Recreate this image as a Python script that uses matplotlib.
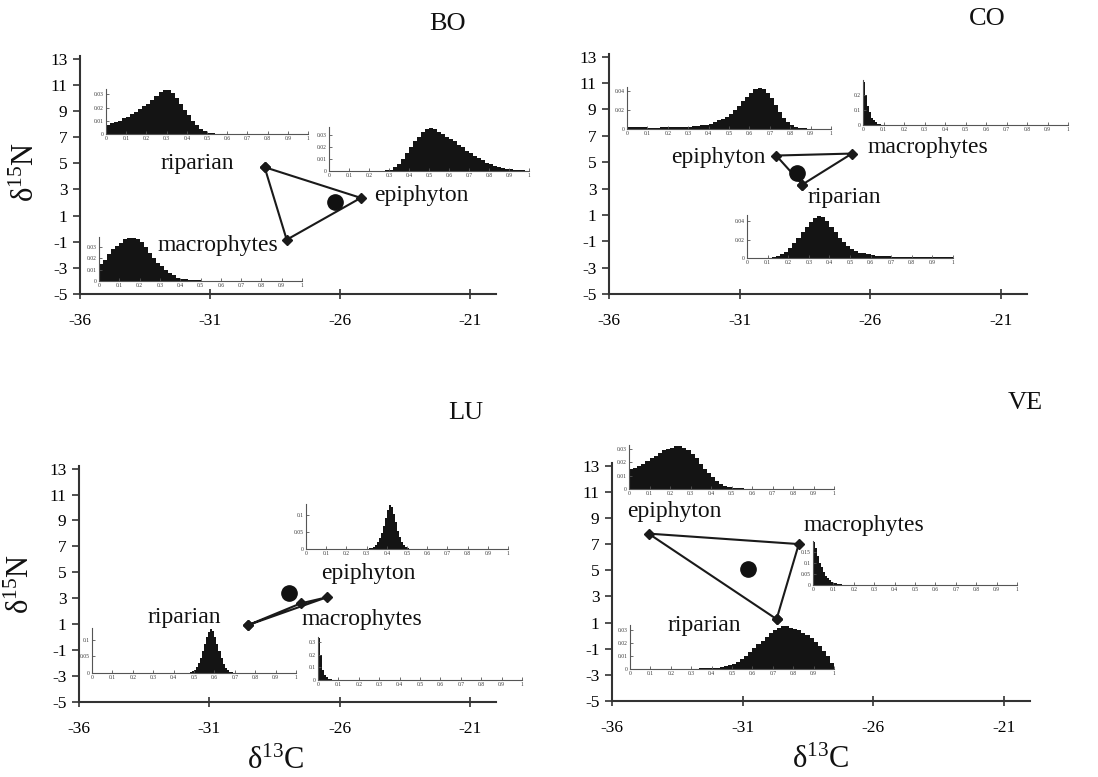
import numpy as np
import matplotlib
matplotlib.use("Agg")
import matplotlib.pyplot as plt

plt.rcParams['font.family'] = ['Liberation Serif', 'DejaVu Serif']
plt.rcParams['mathtext.fontset'] = 'custom'
plt.rcParams['mathtext.rm'] = 'Liberation Serif'
plt.rcParams['mathtext.it'] = 'Liberation Serif:italic'

W, H = 1098, 777

# ---------------- data ----------------
panels = ["BO", "CO", "LU", "VE"]
sources = ["riparian", "epiphyton", "macrophytes"]

# source mean positions (d13C, d15N) per panel, order = sources
src_d13C = {"BO": [-28.9, -25.2, -28.05], "CO": [-28.6, -29.6, -26.7],
            "LU": [-29.5, -26.5, -27.5], "VE": [-29.7, -34.6, -28.85]}
src_d15N = {"BO": [4.7, 2.35, -0.85], "CO": [3.3, 5.5, 5.65],
            "LU": [0.94, 3.07, 2.6], "VE": [1.26, 7.8, 7.0]}
cons_d13C = {"BO": -26.2, "CO": -28.8, "LU": -27.95, "VE": -30.8}
cons_d15N = {"BO": 2.0, "CO": 4.15, "LU": 3.4, "VE": 5.1}

x_ticks = [-36, -31, -26, -21]
y_ticks = [-5, -3, -1, 1, 3, 5, 7, 9, 11, 13]

# posterior histograms of source proportions (bin start, bin width, heights)
BO_RIP_START, BO_RIP_W = 0.0, 0.02
BO_RIP = [0.007, 0.008, 0.009, 0.010, 0.012, 0.013, 0.015, 0.017, 0.019, 0.021,
          0.023, 0.026, 0.029, 0.032, 0.033, 0.033, 0.031, 0.027, 0.023, 0.018,
          0.014, 0.010, 0.007, 0.004, 0.002, 0.001, 0.0005, 0.0002]
BO_EPI_START, BO_EPI_W = 0.20, 0.02
BO_EPI = [0.0002, 0.0003, 0.0003, 0.0004, 0.0005, 0.001, 0.003, 0.006, 0.010, 0.015,
          0.020, 0.025, 0.029, 0.033, 0.035, 0.036, 0.035, 0.033, 0.031, 0.029,
          0.027, 0.025, 0.022, 0.020, 0.017, 0.015, 0.013, 0.011, 0.009, 0.007,
          0.006, 0.004, 0.003, 0.0025, 0.002, 0.0015, 0.001, 0.0007, 0.0005, 0.0003]
BO_MAC_START, BO_MAC_W = 0.0, 0.02
BO_MAC = [0.015, 0.019, 0.024, 0.028, 0.031, 0.034, 0.037, 0.038, 0.038, 0.037,
          0.035, 0.030, 0.025, 0.020, 0.016, 0.013, 0.010, 0.007, 0.005, 0.003,
          0.002, 0.0015, 0.001, 0.0008, 0.0005, 0.0003, 0.0002]

CO_EPI_START, CO_EPI_W = 0.0, 0.02
CO_EPI = [0.002, 0.002, 0.0018, 0.0017, 0.0016, 0.0015, 0.0015, 0.0015, 0.0016, 0.0016,
          0.0017, 0.0018, 0.0019, 0.002, 0.0022, 0.0025, 0.003, 0.0035, 0.004, 0.0045,
          0.005, 0.007, 0.009, 0.011, 0.013, 0.016, 0.020, 0.024, 0.029, 0.034,
          0.038, 0.042, 0.043, 0.042, 0.038, 0.032, 0.025, 0.018, 0.012, 0.007,
          0.004, 0.002, 0.001, 0.0007, 0.0005, 0.0004, 0.0003]
CO_MAC_START, CO_MAC_W = 0.0, 0.01
CO_MAC = [0.29, 0.20, 0.13, 0.085, 0.05, 0.033, 0.018, 0.01, 0.005, 0.003, 0.001, 0.0005]
CO_RIP_START, CO_RIP_W = 0.10, 0.02
CO_RIP = [0.0005, 0.001, 0.002, 0.004, 0.007, 0.011, 0.016, 0.022, 0.028, 0.034,
          0.039, 0.044, 0.046, 0.045, 0.040, 0.034, 0.028, 0.022, 0.017, 0.013,
          0.010, 0.008, 0.006, 0.005, 0.004, 0.003, 0.0027, 0.0024, 0.002, 0.0018,
          0.0016, 0.0015, 0.0014, 0.0013, 0.0012, 0.0011, 0.001, 0.001, 0.001, 0.0009,
          0.0009, 0.0008, 0.0008, 0.0007, 0.0006]

LU_EPI_START, LU_EPI_W = 0.30, 0.01
LU_EPI = [0.001, 0.002, 0.003, 0.006, 0.011, 0.02, 0.032, 0.048, 0.068, 0.092,
          0.115, 0.128, 0.122, 0.103, 0.078, 0.054, 0.034, 0.02, 0.011, 0.005,
          0.002, 0.001]
LU_RIP_START, LU_RIP_W = 0.47, 0.01
LU_RIP = [0.001, 0.002, 0.005, 0.01, 0.018, 0.03, 0.046, 0.066, 0.088, 0.108,
          0.124, 0.132, 0.126, 0.11, 0.088, 0.065, 0.044, 0.027, 0.015, 0.008,
          0.004, 0.002, 0.001]
LU_MAC_START, LU_MAC_W = 0.0, 0.01
LU_MAC = [0.33, 0.2, 0.08, 0.04, 0.02, 0.01, 0.006, 0.003, 0.002, 0.001, 0.0005]

VE_EPI_START, VE_EPI_W = 0.0, 0.02
VE_EPI = [0.015, 0.016, 0.017, 0.019, 0.021, 0.023, 0.025, 0.027, 0.029, 0.030,
          0.031, 0.032, 0.032, 0.031, 0.029, 0.026, 0.023, 0.019, 0.015, 0.012,
          0.009, 0.006, 0.004, 0.0025, 0.0015, 0.001, 0.0006, 0.0004, 0.0003, 0.0002]
VE_MAC_START, VE_MAC_W = 0.0, 0.01
VE_MAC = [0.195, 0.17, 0.13, 0.1, 0.08, 0.057, 0.042, 0.03, 0.021, 0.015,
          0.01, 0.007, 0.005, 0.003, 0.002, 0.0015, 0.001, 0.001, 0.0008, 0.0005]
VE_RIP_START, VE_RIP_W = 0.30, 0.02
VE_RIP = [0.0002, 0.0003, 0.0004, 0.0005, 0.0006, 0.0008, 0.001, 0.0015, 0.002, 0.003,
          0.004, 0.0055, 0.0075, 0.01, 0.013, 0.016, 0.019, 0.022, 0.025, 0.028,
          0.030, 0.032, 0.033, 0.033, 0.032, 0.031, 0.030, 0.028, 0.026, 0.024,
          0.021, 0.018, 0.014, 0.010, 0.005]

hist_yticks = {
    "BO_RIP": [0, 0.01, 0.02, 0.03], "BO_EPI": [0, 0.01, 0.02, 0.03], "BO_MAC": [0, 0.01, 0.02, 0.03],
    "CO_EPI": [0, 0.02, 0.04], "CO_MAC": [0, 0.1, 0.2], "CO_RIP": [0, 0.02, 0.04],
    "LU_EPI": [0, 0.05, 0.1], "LU_RIP": [0, 0.05, 0.1], "LU_MAC": [0, 0.1, 0.2, 0.3],
    "VE_EPI": [0, 0.01, 0.02, 0.03], "VE_MAC": [0, 0.05, 0.1, 0.15], "VE_RIP": [0, 0.01, 0.02, 0.03],
}
hist_data = {
    "BO_RIP": (BO_RIP_START, BO_RIP_W, BO_RIP), "BO_EPI": (BO_EPI_START, BO_EPI_W, BO_EPI),
    "BO_MAC": (BO_MAC_START, BO_MAC_W, BO_MAC), "CO_EPI": (CO_EPI_START, CO_EPI_W, CO_EPI),
    "CO_MAC": (CO_MAC_START, CO_MAC_W, CO_MAC), "CO_RIP": (CO_RIP_START, CO_RIP_W, CO_RIP),
    "LU_EPI": (LU_EPI_START, LU_EPI_W, LU_EPI), "LU_RIP": (LU_RIP_START, LU_RIP_W, LU_RIP),
    "LU_MAC": (LU_MAC_START, LU_MAC_W, LU_MAC), "VE_EPI": (VE_EPI_START, VE_EPI_W, VE_EPI),
    "VE_MAC": (VE_MAC_START, VE_MAC_W, VE_MAC), "VE_RIP": (VE_RIP_START, VE_RIP_W, VE_RIP),
}

# ---------------- layout (pixels) ----------------
main_box = {"BO": (80, 56, 496, 294), "CO": (609, 54, 1027, 294),
            "LU": (79, 466, 496, 702), "VE": (612, 463, 1030, 701)}
# inset boxes: (left, top, right, bottom) pixels, ylim top
inset_box = {
    "BO_RIP": ((106, 89, 308, 134), 0.034), "BO_EPI": ((329, 127, 529, 171), 0.037),
    "BO_MAC": ((99, 237, 302, 281), 0.039),
    "CO_EPI": ((627, 87, 831, 129), 0.044), "CO_MAC": ((863, 80, 1068, 125), 0.30),
    "CO_RIP": ((747, 215, 953, 258), 0.047),
    "LU_EPI": ((306, 504, 508, 549), 0.132), "LU_RIP": ((92, 628, 296, 673), 0.136),
    "LU_MAC": ((318, 637, 522, 680), 0.34),
    "VE_EPI": ((629, 445, 834, 489), 0.033), "VE_MAC": ((813, 541, 1017, 585), 0.20),
    "VE_RIP": ((630, 625, 834, 669), 0.034),
}
titles_pos = {"BO": (448, 24), "CO": (987, 19), "LU": (466, 413), "VE": (1025, 403)}
# label positions: (x px, y px, ha)
label_pos = {
    "BO": {"riparian": (160, 163, "left"), "epiphyton": (374, 196, "left"), "macrophytes": (157, 245, "left")},
    "CO": {"riparian": (807, 198, "left"), "epiphyton": (765, 157, "right"), "macrophytes": (867, 148, "left")},
    "LU": {"riparian": (147, 617, "left"), "epiphyton": (321, 573, "left"), "macrophytes": (302, 620, "left")},
    "VE": {"riparian": (667, 626, "left"), "epiphyton": (627, 511, "left"), "macrophytes": (803, 526, "left")},
}

fig = plt.figure(figsize=(W / 100, H / 100), dpi=100)
fig.patch.set_facecolor("white")


def box_to_fig(l, t, r, b):
    return [l / W, 1 - b / H, (r - l) / W, (b - t) / H]


def ftext(x, y, s, **kw):
    fig.text(x / W, 1 - y / H, s, **kw)


for p in panels:
    ax = fig.add_axes(box_to_fig(*main_box[p]))
    ax.set_facecolor("none")
    ax.set_xlim(-36, -20)
    ax.set_ylim(-5, 13.2)
    for s in ["top", "right"]:
        ax.spines[s].set_visible(False)
    for s in ["left", "bottom"]:
        ax.spines[s].set_color("#333333")
        ax.spines[s].set_linewidth(1.5)
    ax.set_xticks(x_ticks)
    ax.set_yticks(y_ticks)
    ax.set_xticklabels([str(v) for v in x_ticks])
    ax.set_yticklabels([str(v) for v in y_ticks])
    ax.tick_params(axis="x", direction="inout", length=7, width=1.2, color="#333333",
                   labelsize=12.5, pad=10)
    ax.tick_params(axis="y", direction="out", length=5, width=1.2, color="#333333",
                   labelsize=12.5, pad=4)
    xs = src_d13C[p] + [src_d13C[p][0]]
    ys = src_d15N[p] + [src_d15N[p][0]]
    ax.plot(xs, ys, color="#1a1a1a", lw=1.5, marker="D", ms=5, mfc="#1a1a1a", mec="#1a1a1a")
    ax.plot([cons_d13C[p]], [cons_d15N[p]], "o", color="#111111", ms=11)
    for name in sources:
        x, y, ha = label_pos[p][name]
        ftext(x, y, name, ha=ha, va="center", fontsize=17, color="#111111")
    tx, ty = titles_pos[p]
    ftext(tx, ty, p, ha="center", va="center", fontsize=19, color="#111111")

for key, (bx, ytop) in inset_box.items():
    start, w, vals = hist_data[key]
    edges = start + w * np.arange(len(vals) + 1)
    iax = fig.add_axes(box_to_fig(*bx))
    iax.set_facecolor("none")
    iax.stairs(vals, edges, fill=True, color="#141414", lw=0)
    iax.set_xlim(0, 1.0)
    iax.set_ylim(0, ytop)
    for s in ["top", "right"]:
        iax.spines[s].set_visible(False)
    for s in ["left", "bottom"]:
        iax.spines[s].set_color("#555555")
        iax.spines[s].set_linewidth(0.8)
    xt = [round(0.1 * i, 1) for i in range(11)]
    iax.set_xticks(xt)
    iax.set_xticklabels([f"{v:g}" for v in xt])
    yt = hist_yticks[key]
    iax.set_yticks(yt)
    iax.set_yticklabels([f"{v:g}" for v in yt])
    iax.tick_params(direction="in", length=2, width=0.6, color="#555555",
                    labelsize=4, pad=1.5, labelcolor="#333333")

# axis titles
ftext(26, 172, "δ$^{15}$N", rotation=90, ha="center", va="center", fontsize=22, color="#111111")
ftext(21, 584, "δ$^{15}$N", rotation=90, ha="center", va="center", fontsize=22, color="#111111")
ftext(276, 761, "δ$^{13}$C", ha="center", va="center", fontsize=22, color="#111111")
ftext(821, 760, "δ$^{13}$C", ha="center", va="center", fontsize=22, color="#111111")

fig.savefig("out.png", dpi=100, facecolor="white")
